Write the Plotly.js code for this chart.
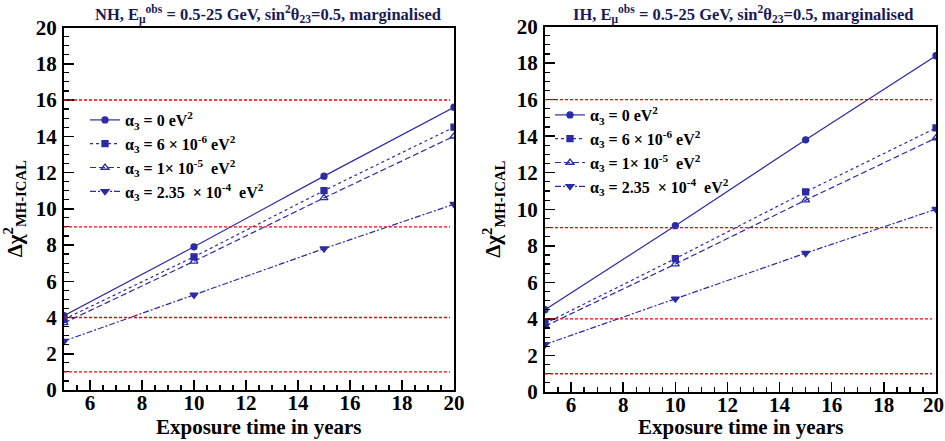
<!DOCTYPE html>
<html>
<head>
<meta charset="utf-8">
<script src="https://cdn.plot.ly/plotly-3.0.1.min.js"></script>
<style>html,body{margin:0;padding:0;background:#fff;}#chart{width:945px;height:441px;}</style>
</head>
<body>
<div id="chart"></div>
<script>
// ---- data ----
const years = [5, 10, 15, 20];
const labels = [
  "α<sub>3</sub> = 0 eV<sup>2</sup>",
  "α<sub>3</sub> = 6 × 10<sup>-6</sup> eV<sup>2</sup>",
  "α<sub>3</sub> = 1× 10<sup>-5</sup>  eV<sup>2</sup>",
  "α<sub>3</sub> = 2.35  × 10<sup>-4</sup>  eV<sup>2</sup>"
];
const nh_a0      = [4.1, 7.9, 11.8, 15.6];
const nh_a6e6    = [3.9, 7.35, 11.0, 14.5];
const nh_a1e5    = [3.7, 7.1, 10.6, 14.0];
const nh_a235e4  = [2.7, 5.25, 7.8, 10.25];
const ih_a0      = [4.5, 9.1, 13.8, 18.4];
const ih_a6e6    = [3.75, 7.3, 10.95, 14.45];
const ih_a1e5    = [3.6, 7.0, 10.5, 13.9];
const ih_a235e4  = [2.6, 5.1, 7.6, 10.0];
const thresholds = [1, 4, 9, 16];
const xTicks = [6, 8, 10, 12, 14, 16, 18, 20];
const yTicks = [0, 2, 4, 6, 8, 10, 12, 14, 16, 18, 20];
const xTitle = 'Exposure time in years';
const yTitle = 'Δχ<sup>2</sup><sub>MH-ICAL</sub>';

const blue = '#2b2ba6';
const serif = 'Liberation Serif';
const styles = [
  {dash: 'solid', symbol: 'circle', size: 6},
  {dash: 'dot', symbol: 'square', size: 6},
  {dash: '6px,3px', symbol: 'triangle-up-open', size: 7},
  {dash: '6px,2px,2px,2px', symbol: 'triangle-down', size: 7}
];

function mk(ys, i, xa, ya, leg) {
  return {
    x: years, y: ys, type: 'scatter', mode: 'lines+markers',
    name: '<b>' + labels[i] + '</b>', xaxis: xa, yaxis: ya, legend: leg,
    line: {color: blue, width: 1.2, dash: styles[i].dash},
    marker: {color: blue, symbol: styles[i].symbol, size: styles[i].size, line: {color: blue, width: 1.3}}
  };
}

const data = [
  mk(nh_a0, 0, 'x', 'y', 'legend'),
  mk(nh_a6e6, 1, 'x', 'y', 'legend'),
  mk(nh_a1e5, 2, 'x', 'y', 'legend'),
  mk(nh_a235e4, 3, 'x', 'y', 'legend'),
  mk(ih_a0, 0, 'x2', 'y2', 'legend2'),
  mk(ih_a6e6, 1, 'x2', 'y2', 'legend2'),
  mk(ih_a1e5, 2, 'x2', 'y2', 'legend2'),
  mk(ih_a235e4, 3, 'x2', 'y2', 'legend2')
];

const tickFont = {family: serif, size: 21, color: '#000', weight: 'bold'};

function xax(domain, anchor, lastPad) {
  return {
    domain: domain, anchor: anchor, range: [5, 20],
    tickvals: xTicks,
    ticktext: xTicks.map((v, k) => '<b>' + v + '</b>' + (lastPad && k === xTicks.length - 1 ? '&nbsp;' : '')),
    ticks: 'inside', ticklen: 10, tickwidth: 1.5, tickcolor: '#000',
    minor: {dtick: 0.5, tick0: 0, ticks: 'inside', ticklen: 5, tickwidth: 1.2, tickcolor: '#000', showgrid: false},
    showline: true, linecolor: '#000', linewidth: 2, mirror: true,
    showgrid: false, zeroline: false, ticklabeloverflow: 'allow', ticklabelstandoff: -7,
    tickfont: tickFont
  };
}
function yax(domain, anchor) {
  return {
    domain: domain, anchor: anchor, range: [0, 20],
    tickvals: yTicks, ticktext: yTicks.map(v => '<b>' + v + '</b>'),
    ticks: 'inside', ticklen: 10, tickwidth: 1.5, tickcolor: '#000',
    minor: {dtick: 0.5, tick0: 0, ticks: 'inside', ticklen: 5, tickwidth: 1.2, tickcolor: '#000', showgrid: false},
    showline: true, linecolor: '#000', linewidth: 2, mirror: true,
    showgrid: false, zeroline: false, ticklabeloverflow: 'allow', ticklabelstandoff: 1,
    tickfont: tickFont,
    title: {text: '<b>' + yTitle + '</b>', font: {family: serif, size: 21, color: '#000'}, standoff: 10}
  };
}

const shapes = [];
thresholds.forEach(t => {
  [['x', 'y'], ['x2', 'y2']].forEach(([xa, ya]) => {
    shapes.push({type: 'line', xref: xa + ' domain', yref: ya, x0: 0, x1: 0.99, y0: t, y1: t,
      line: {color: '#ff0000', width: 1.3, dash: '3px,2px'}});
  });
});

const titleFont = {family: serif, size: 16.5, color: '#1a1a55'};
const axTitleFont = {family: serif, size: 21, color: '#000'};
const annotations = [
  {text: '<b>NH, E<sub>μ</sub><sup>obs</sup> = 0.5-25 GeV, sin<sup>2</sup>θ<sub>23</sub>=0.5, marginalised</b>',
   xref: 'paper', yref: 'paper', x: 268 / 945, y: 1 - 14 / 441, xanchor: 'center', yanchor: 'middle', showarrow: false, font: titleFont},
  {text: '<b>IH, E<sub>μ</sub><sup>obs</sup> = 0.5-25 GeV, sin<sup>2</sup>θ<sub>23</sub>=0.5, marginalised</b>',
   xref: 'paper', yref: 'paper', x: 743 / 945, y: 1 - 14 / 441, xanchor: 'center', yanchor: 'middle', showarrow: false, font: titleFont},
  {text: '<b>' + xTitle + '</b>', xref: 'x domain', yref: 'paper', x: 0.5, y: 1 - 427 / 441,
   xanchor: 'center', yanchor: 'middle', showarrow: false, font: axTitleFont},
  {text: '<b>' + xTitle + '</b>', xref: 'x2 domain', yref: 'paper', x: 0.5, y: 1 - 427 / 441,
   xanchor: 'center', yanchor: 'middle', showarrow: false, font: axTitleFont}
];

const legFont = {family: serif, size: 16, color: '#000'};

const layout = {
  width: 945, height: 441,
  margin: {l: 0, r: 0, t: 0, b: 0},
  paper_bgcolor: '#fff', plot_bgcolor: '#fff',
  showlegend: true,
  font: {family: serif},
  xaxis: xax([64 / 945, 454 / 945], 'y', false),
  yaxis: yax([51 / 441, 413.5 / 441], 'x'),
  xaxis2: xax([545 / 945, 936 / 945], 'y2', true),
  yaxis2: yax([49 / 441, 414.5 / 441], 'x2'),
  legend: {x: 85 / 945, y: 1 - 103 / 441, xanchor: 'left', yanchor: 'top', bgcolor: 'rgba(0,0,0,0)',
           font: legFont, itemwidth: 30, tracegroupgap: 0},
  legend2: {x: 550 / 945, y: 1 - 98 / 441, xanchor: 'left', yanchor: 'top', bgcolor: 'rgba(0,0,0,0)',
           font: legFont, itemwidth: 30, tracegroupgap: 0},
  shapes: shapes,
  annotations: annotations
};

Plotly.newPlot('chart', data, layout, {displayModeBar: false, staticPlot: true});
</script>
</body>
</html>
